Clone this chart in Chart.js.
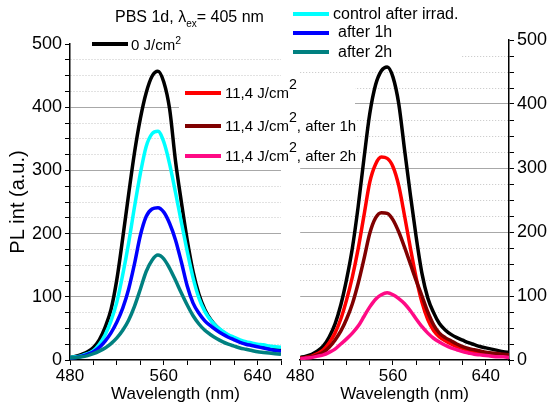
<!DOCTYPE html>
<html>
<head>
<meta charset="utf-8">
<script src="https://cdn.jsdelivr.net/npm/chart.js@4"></script>
<style>
  body { margin: 0; background: #fff; }
  #wrap { position: relative; width: 551px; height: 405px; background: #fff; overflow: hidden;
          font-family: 'Liberation Sans', Arial, sans-serif; color: #000; }
  canvas { position: absolute; top: 0; }
  .box { position: absolute; background: #fff; }
  .sw { position: absolute; height: 4px; width: 36px; }
  .tx { position: absolute; white-space: nowrap; line-height: 1; }
  .tx sup { font-size: 0.7em; vertical-align: baseline; position: relative; top: -0.6em; }
  .tx sup.big { font-size: 0.95em; top: -0.6em; }
  .title { position: absolute; left: 115px; top: 9px; font-size: 16px; line-height: 1; white-space: nowrap; }
  .title sub { font-size: 10px; vertical-align: baseline; position: relative; top: 5px; }
</style>
</head>
<body>
<div id="wrap">
  <canvas id="leftChart" width="290" height="405" style="left:0"></canvas>
  <canvas id="rightChart" width="266" height="405" style="left:285px"></canvas>

  <div class="title">PBS 1d, λ<sub>ex</sub>= 405 nm</div>

  <div class="box" style="left:88px;top:34px;width:96px;height:20px"></div>
  <div class="sw" style="left:92px;top:42px;background:#000"></div>
  <div class="tx" style="left:131px;top:37px;font-size:15px">0 J/cm<sup>2</sup></div>

  <div class="box" style="left:179px;top:79px;width:176px;height:88px"></div>
  <div class="sw" style="left:185px;top:91px;background:#ff0000"></div>
  <div class="tx" style="left:225px;top:85px;font-size:15px">11,4 J/cm<sup class="big">2</sup></div>
  <div class="sw" style="left:185px;top:124px;background:#800000"></div>
  <div class="tx" style="left:225px;top:118px;font-size:15px">11,4 J/cm<sup class="big">2</sup>, after 1h</div>
  <div class="sw" style="left:185px;top:154px;background:#ff0a85"></div>
  <div class="tx" style="left:225px;top:148px;font-size:15px">11,4 J/cm<sup class="big">2</sup>, after 2h</div>

  <div class="box" style="left:288px;top:0;width:174px;height:63px"></div>
  <div class="sw" style="left:293px;top:12px;background:#00ffff"></div>
  <div class="tx" style="left:333px;top:6px;font-size:16px">control after irrad.</div>
  <div class="sw" style="left:293px;top:31px;background:#0000ff"></div>
  <div class="tx" style="left:338px;top:24px;font-size:16px">after 1h</div>
  <div class="sw" style="left:293px;top:50px;background:#008080"></div>
  <div class="tx" style="left:338px;top:44px;font-size:16px">after 2h</div>
</div>

<script>
// wavelength grid (nm)
const wavelength = [480,485,490,495,500,505,510,515,520,525,530,535,540,545,550,555,560,565,570,575,
                    580,585,590,595,600,605,610,615,620,625,630,635,640,645,650,655,660];

// left panel
const ctrl0 =      [4,6,9,13,20,32,52,80,128,193,262,328,382,423,449,457,440,397,315,250,
                    190,140,104,80,64,53,45,39,34,30,27,25,23,21,19,17,16];
const ctrlIrrad =  [4,5,7,10,15,25,40,62,92,135,185,242,295,338,358,362,345,310,265,218,
                    172,130,98,77,63,53,46,40,36,32,29,27,25,24,22,21,20];
const ctrl1h =     [3,4,6,9,13,20,30,43,60,82,112,152,197,227,239,241,234,216,190,155,
                    117,90,74,62,54,47,41,36,32,28,25,23,21,19,17,15,14];
const ctrl2h =     [3,4,5,7,10,14,19,26,35,47,63,85,112,140,158,166,160,145,126,106,
                    87,70,57,47,40,34,29,25,22,19,17,15,13,12,11,10,9];

// right panel
const dose0 =      [4,6,9,14,22,36,56,86,126,175,240,315,385,430,452,458,442,400,328,258,
                    192,135,97,74,57,47,40,35,31,27,24,21,19,17,15,13,12];
const dose114 =    [3,4,6,10,16,27,42,64,94,130,174,226,278,306,317,315,302,272,225,175,
                    128,90,63,46,36,30,25,21,18,15,13,11,10,9,8,7,6];
const dose114h1 =  [3,4,5,8,12,20,31,45,64,88,120,158,198,222,230,229,219,200,176,150,
                    124,100,75,55,42,35,30,25,21,18,16,14,12,11,10,9,8];
const dose114h2 =  [2,3,4,6,8,12,17,25,33,42,53,68,83,95,102,105,102,96,88,77,
                    64,52,42,34,28,23,19,16,13,11,9,8,7,6,5,5,4];

const yTicks = [0, 100, 200, 300, 400, 500];
const xTicks = [480, 560, 640];

Chart.defaults.font.family = "'Liberation Sans', Arial, sans-serif";
Chart.defaults.color = '#000';

function series(values, color) {
  return {
    data: wavelength.map((w, i) => ({ x: w, y: values[i] })),
    borderColor: color,
    borderWidth: 3.5,
    pointRadius: 0,
    fill: false,
    cubicInterpolationMode: 'monotone'
  };
}

function makeChart(id, datasets, side, yWidth, pad) {
  return new Chart(document.getElementById(id), {
    type: 'line',
    data: { datasets: datasets },
    options: {
      responsive: false,
      animation: false,
      devicePixelRatio: 1,
      layout: { padding: pad },
      plugins: { legend: { display: false }, tooltip: { enabled: false } },
      scales: {
        x: {
          type: 'linear',
          min: 480, max: 660,
          afterFit: s => { s.height = 45; },
          ticks: {
            stepSize: 20, autoSkip: false, maxRotation: 0, padding: 1,
            font: { size: 17 },
            callback: v => xTicks.includes(v) ? v : ''
          },
          grid: { drawOnChartArea: false, drawTicks: true, tickLength: 5, color: '#000' },
          border: { color: '#000', width: 1.5 },
          title: { display: true, text: 'Wavelength (nm)', font: { size: 17 }, padding: { top: 0, bottom: 0 } }
        },
        y: {
          position: side,
          min: 0, max: 500,
          afterFit: s => { s.width = yWidth; },
          ticks: {
            stepSize: 25, autoSkip: false, padding: 3,
            font: { size: 18 },
            callback: v => yTicks.includes(v) ? v : ''
          },
          grid: {
            tickLength: 5,
            tickColor: '#000',
            lineWidth: 1,
            color: c => {
              const v = c.tick ? c.tick.value : null;
              if (v === 0 || v === 500) return 'rgba(0,0,0,0)';
              return v % 100 === 0 ? '#a8a8a8' : '#c4c4c4';
            }
          },
          border: {
            color: '#000', width: 1.5,
            dash: c => (c.tick && c.tick.value % 100 !== 0) ? [1, 2] : []
          },
          title: side === 'left'
            ? { display: true, text: 'PL int (a.u.)', font: { size: 20 }, padding: { top: 6, bottom: 0 } }
            : { display: false }
        }
      }
    }
  });
}

makeChart('leftChart', [
  series(ctrl2h, '#008080'),
  series(ctrl1h, '#0000ff'),
  series(ctrlIrrad, '#00ffff'),
  series(ctrl0, '#000000')
], 'left', 70, { top: 44, right: 9, left: 0, bottom: 0 });

makeChart('rightChart', [
  series(dose114h2, '#ff0a85'),
  series(dose114h1, '#800000'),
  series(dose114, '#ff0000'),
  series(dose0, '#000000')
], 'right', 42, { top: 40, right: 0, left: 8, bottom: 0 });
</script>
</body>
</html>
